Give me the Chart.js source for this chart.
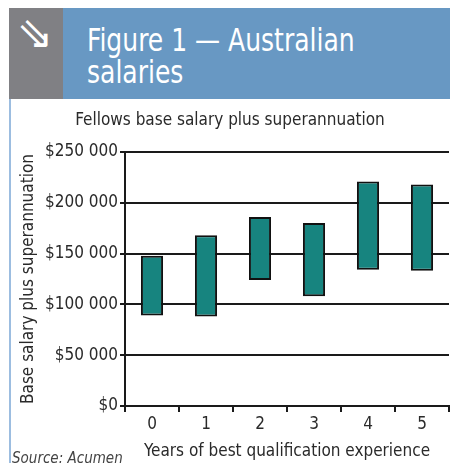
<!DOCTYPE html>
<html>
<head>
<meta charset="utf-8">
<script src="https://cdn.jsdelivr.net/npm/chart.js@4/dist/chart.umd.min.js"></script>
<style>
  html, body { margin:0; padding:0; background:#fff; }
  body { width:450px; height:463px; position:relative; overflow:hidden;
         font-family:"DejaVu Sans Condensed","Liberation Sans Narrow","Roboto",sans-serif; }
  #icon { position:absolute; left:9px; top:8px; width:54px; height:91px; background:#808084; }
  #arrow { position:absolute; left:-1px; top:0px; width:54px; text-align:center;
           color:#fff; font-family:"DejaVu Sans",sans-serif; font-size:44px; line-height:50px; }
  #head { position:absolute; left:63px; top:8px; width:387px; height:91px; background:#6898c3; }
  #headtxt { position:absolute; left:24px; top:16px; color:#fff; font-size:32px; line-height:32px; white-space:nowrap;
             transform:scaleX(0.87); transform-origin:0 0; }
  #rule { position:absolute; left:9px; top:99px; width:2px; height:364px; background:#9cbde0; }
  #wrap { position:absolute; left:11px; top:100px; width:439px; height:363px; }
  #src { position:absolute; left:12px; top:449px; font-style:italic; font-size:15px; color:#444; white-space:nowrap; }
</style>
</head>
<body>
<div id="icon"><div id="arrow">⇘</div></div>
<div id="head"><div id="headtxt">Figure 1 — Australian<br>salaries</div></div>
<div id="rule"></div>
<div id="wrap"><canvas id="c"></canvas></div>
<div id="src">Source: Acumen</div>
<script>
const categories = ['0', '1', '2', '3', '4', '5'];
const lows  = [89000, 88000, 124000, 108000, 134000, 133000];
const highs = [148000, 168000, 186000, 180000, 221000, 218000];
const yTickValues = [0, 50000, 100000, 150000, 200000, 250000];

const FONT = '"DejaVu Sans Condensed","Liberation Sans Narrow","Roboto",sans-serif';
const TXT = '#2a2a2a';
function fmt(v) {
  return '$' + String(v).replace(/\B(?=(\d{3})+(?!\d))/g, ' ');
}

new Chart(document.getElementById('c'), {
  type: 'bar',
  data: {
    labels: categories,
    datasets: [{
      data: lows.map((l, i) => [l, highs[i]]),
      backgroundColor: '#17847f',
      borderColor: '#111',
      borderWidth: 2,
      borderSkipped: false,
      barPercentage: 0.41,
      categoryPercentage: 1
    }]
  },
  options: {
    responsive: true,
    maintainAspectRatio: false,
    animation: false,
    layout: { padding: { left: 0, right: 1, top: 0, bottom: 0 } },
    plugins: {
      legend: { display: false },
      tooltip: { enabled: false },
      title: {
        display: true,
        text: 'Fellows base salary plus superannuation',
        color: TXT,
        font: { family: FONT, size: 17, weight: 'normal', lineHeight: 1.2 },
        padding: { top: 10, bottom: 21.6 }
      }
    },
    scales: {
      x: {
        type: 'category',
        offset: true,
        afterFit: s => { s.height = 57; },
        grid: { offset: true, drawOnChartArea: false, drawTicks: true, tickLength: 6, color: '#1a1a1a', lineWidth: 2 },
        border: { display: true, color: '#1a1a1a', width: 2 },
        ticks: { color: TXT, padding: 2, font: { family: FONT, size: 17 } },
        title: {
          display: true,
          text: 'Years of best qualification experience',
          color: TXT,
          font: { family: FONT, size: 17, lineHeight: 1.2 },
          padding: { top: 0, bottom: 1 }
        }
      },
      y: {
        min: 0,
        max: 250000,
        afterFit: s => { s.width = 114; },
        afterBuildTicks: s => { s.ticks = yTickValues.map(v => ({ value: v })); },
        grid: { color: '#1a1a1a', lineWidth: 2, tickLength: 5 },
        border: { display: true, color: '#1a1a1a', width: 2 },
        ticks: { color: TXT, padding: 2, font: { family: FONT, size: 17 }, callback: v => fmt(v) },
        title: {
          display: true,
          text: 'Base salary plus superannuation',
          color: TXT,
          font: { family: FONT, size: 17, lineHeight: 1.2 },
          padding: { top: 7, bottom: 0 }
        }
      }
    }
  }
});
</script>
</body>
</html>
